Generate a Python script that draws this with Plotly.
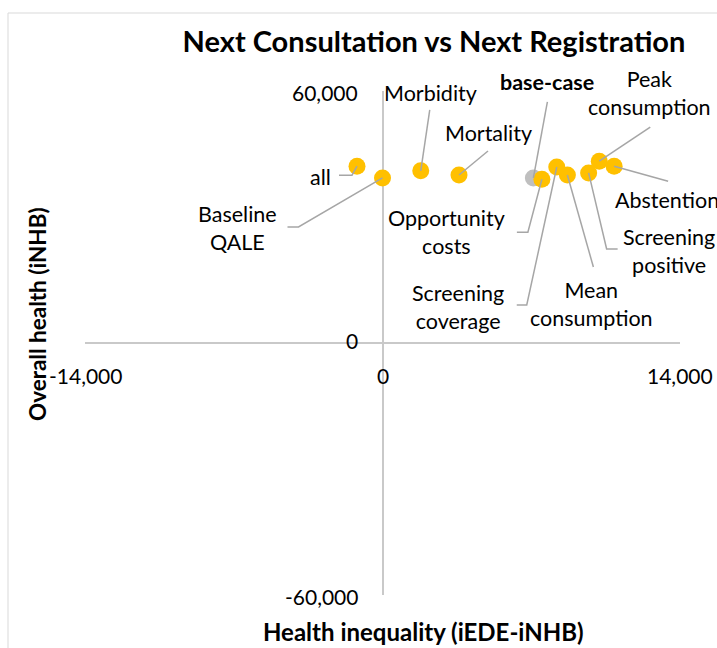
import plotly.graph_objects as go

# ---- data ----
labels = ["all", "Baseline QALE", "Morbidity", "Mortality", "base-case",
          "Opportunity costs", "Screening coverage", "Mean consumption",
          "Screening positive", "Peak consumption", "Abstention"]
inequality = [-1200, 0, 1800, 3600, 7100, 7500, 8200, 8700, 9700, 10200, 10900]
overall = [42100, 39300, 41000, 40000, 39300, 39000, 41900, 40000, 40500, 43300, 42100]
x_ticks = [-14000, 0, 14000]
y_ticks = [-60000, 0, 60000]

# ---- layout geometry (pixels) ----
W, H = 717, 648
L, R, T, B = 85, 37, 91, 53
PW, PH = W - L - R, H - T - B
XR = [-14000, 14000]
YR = [-60000, 60000]
ux = (XR[1] - XR[0]) / PW   # data units per px
uy = (YR[1] - YR[0]) / PH


def to_paper(x, y, dx=0.0, dy=0.0):
    """data value + pixel offset (dy downward) -> paper coords"""
    px = (x - XR[0]) / (XR[1] - XR[0]) + dx / PW
    py = (y - YR[0]) / (YR[1] - YR[0]) - dy / PH
    return px, py


FONT = "Lato, Carlito, Calibri, sans-serif"
FS_LAB = 21.5
FS_TICK = 21
GOLD = "#FFC000"
GREY_PT = "#BFBFBF"
LEAD = "#A6A6A6"
AXC = "#C9C9C9"

# label placement: text centre offset (px, y down) and leader path offsets
label_style = {
    "all": dict(t=(-37, 11), path=[(-5, 9), (-18, 9)], text="all"),
    "Baseline QALE": dict(t=(-145, 50), path=[(-84, 49), (-95, 49)], text="Baseline<br>QALE"),
    "Morbidity": dict(t=(10, -78), path=[(9, -61)], text="Morbidity"),
    "Mortality": dict(t=(29, -42), path=[(29, -24)], text="Mortality"),
    "base-case": dict(t=(14, -96), path=[(14, -76)], text="<b>base-case</b>"),
    "Opportunity costs": dict(t=(-95, 53), path=[(-14, 53), (-25, 53)], text="Opportunity<br>costs"),
    "Screening coverage": dict(t=(-99, 140), path=[(-30, 138), (-40, 138)], text="Screening<br>coverage"),
    "Mean consumption": dict(t=(24, 129), path=[(26, 92)], text="Mean<br>consumption"),
    "Screening positive": dict(t=(80, 78), path=[(18, 76), (29, 76)], text="Screening<br>positive"),
    "Peak consumption": dict(t=(50, -68), path=[(51, -34)], text="Peak<br>consumption"),
    "Abstention": dict(t=(53, 34), path=[(54, 15)], text="Abstention"),
}

fig = go.Figure()

# base-case (grey) first so others overlap it
bx = [x for x, l in zip(inequality, labels) if l == "base-case"]
by = [y for y, l in zip(overall, labels) if l == "base-case"]
ox = [x for x, l in zip(inequality, labels) if l != "base-case"]
oy = [y for y, l in zip(overall, labels) if l != "base-case"]
fig.add_trace(go.Scatter(x=bx, y=by, mode="markers",
                         marker=dict(size=17, color=GREY_PT), hoverinfo="skip"))
fig.add_trace(go.Scatter(x=ox, y=oy, mode="markers",
                         marker=dict(size=17, color=GOLD), hoverinfo="skip"))

annotations = []
for lab, x, y in zip(labels, inequality, overall):
    st = label_style[lab]
    px = [x] + [x + dx * ux for dx, dy in st["path"]]
    py = [y] + [y - dy * uy for dx, dy in st["path"]]
    fig.add_trace(go.Scatter(x=px, y=py, mode="lines",
                             line=dict(color=LEAD, width=1.5), hoverinfo="skip"))
    tx, ty = st["t"]
    ax_, ay_ = to_paper(x, y, tx, ty)
    annotations.append(dict(x=ax_, y=ay_, xref="paper", yref="paper",
                            text=st["text"], showarrow=False, xanchor="center",
                            yanchor="middle", align="center",
                            font=dict(family=FONT, size=FS_LAB, color="#000000")))

# tick labels placed along the crossing axes
for v in x_ticks:
    ax_, ay_ = to_paper(v, 0, 0, 32)
    annotations.append(dict(x=ax_, y=ay_, xref="paper", yref="paper",
                            text=f"{v:,}", showarrow=False, xanchor="center",
                            yanchor="middle",
                            font=dict(family=FONT, size=FS_TICK, color="#000000")))
for v in y_ticks:
    ax_, ay_ = to_paper(0, v, -23, -3 if v == 0 else 1)
    annotations.append(dict(x=ax_, y=ay_, xref="paper", yref="paper",
                            text=f"{v:,}", showarrow=False, xanchor="right",
                            yanchor="middle",
                            font=dict(family=FONT, size=FS_TICK, color="#000000")))

# axis titles
annotations.append(dict(x=(423 - L) / PW, y=1 - (631 - T) / PH,
                        xref="paper", yref="paper", text="<b>Health inequality (iEDE-iNHB)</b>",
                        showarrow=False, xanchor="center", yanchor="middle",
                        font=dict(family=FONT, size=24, color="#000000")))
annotations.append(dict(x=(37 - L) / PW, y=1 - (314 - T) / PH,
                        xref="paper", yref="paper", text="<b>Overall health (iNHB)</b>",
                        showarrow=False, xanchor="center", yanchor="middle", textangle=-90,
                        font=dict(family=FONT, size=22.5, color="#000000")))

# chart border
shapes = [dict(type="rect", xref="paper", yref="paper",
               x0=(8 - L) / PW, x1=(730 - L) / PW,
               y0=1 - (660 - T) / PH, y1=1 + (T - 13) / PH,
               line=dict(color="#D9D9D9", width=1), layer="below")]

fig.update_layout(
    width=W, height=H,
    margin=dict(l=L, r=R, t=T, b=B),
    paper_bgcolor="white", plot_bgcolor="white",
    showlegend=False,
    title=dict(text="<b>Next Consultation vs Next Registration</b>",
               x=434 / W, xanchor="center", y=1 - 42 / H, yanchor="middle",
               xref="container", yref="container",
               font=dict(family=FONT, size=29, color="#000000")),
    xaxis=dict(range=XR, showgrid=False, showticklabels=False, ticks="",
               zeroline=True, zerolinecolor=AXC, zerolinewidth=1.5, showline=False),
    yaxis=dict(range=YR, showgrid=False, showticklabels=False, ticks="",
               zeroline=True, zerolinecolor=AXC, zerolinewidth=1.5, showline=False),
    annotations=annotations,
    shapes=shapes,
)

fig.write_html("out.html",
               config={"displayModeBar": False},
               post_script="document.body.style.margin='0';"
                           "document.body.style.overflow='hidden';")
